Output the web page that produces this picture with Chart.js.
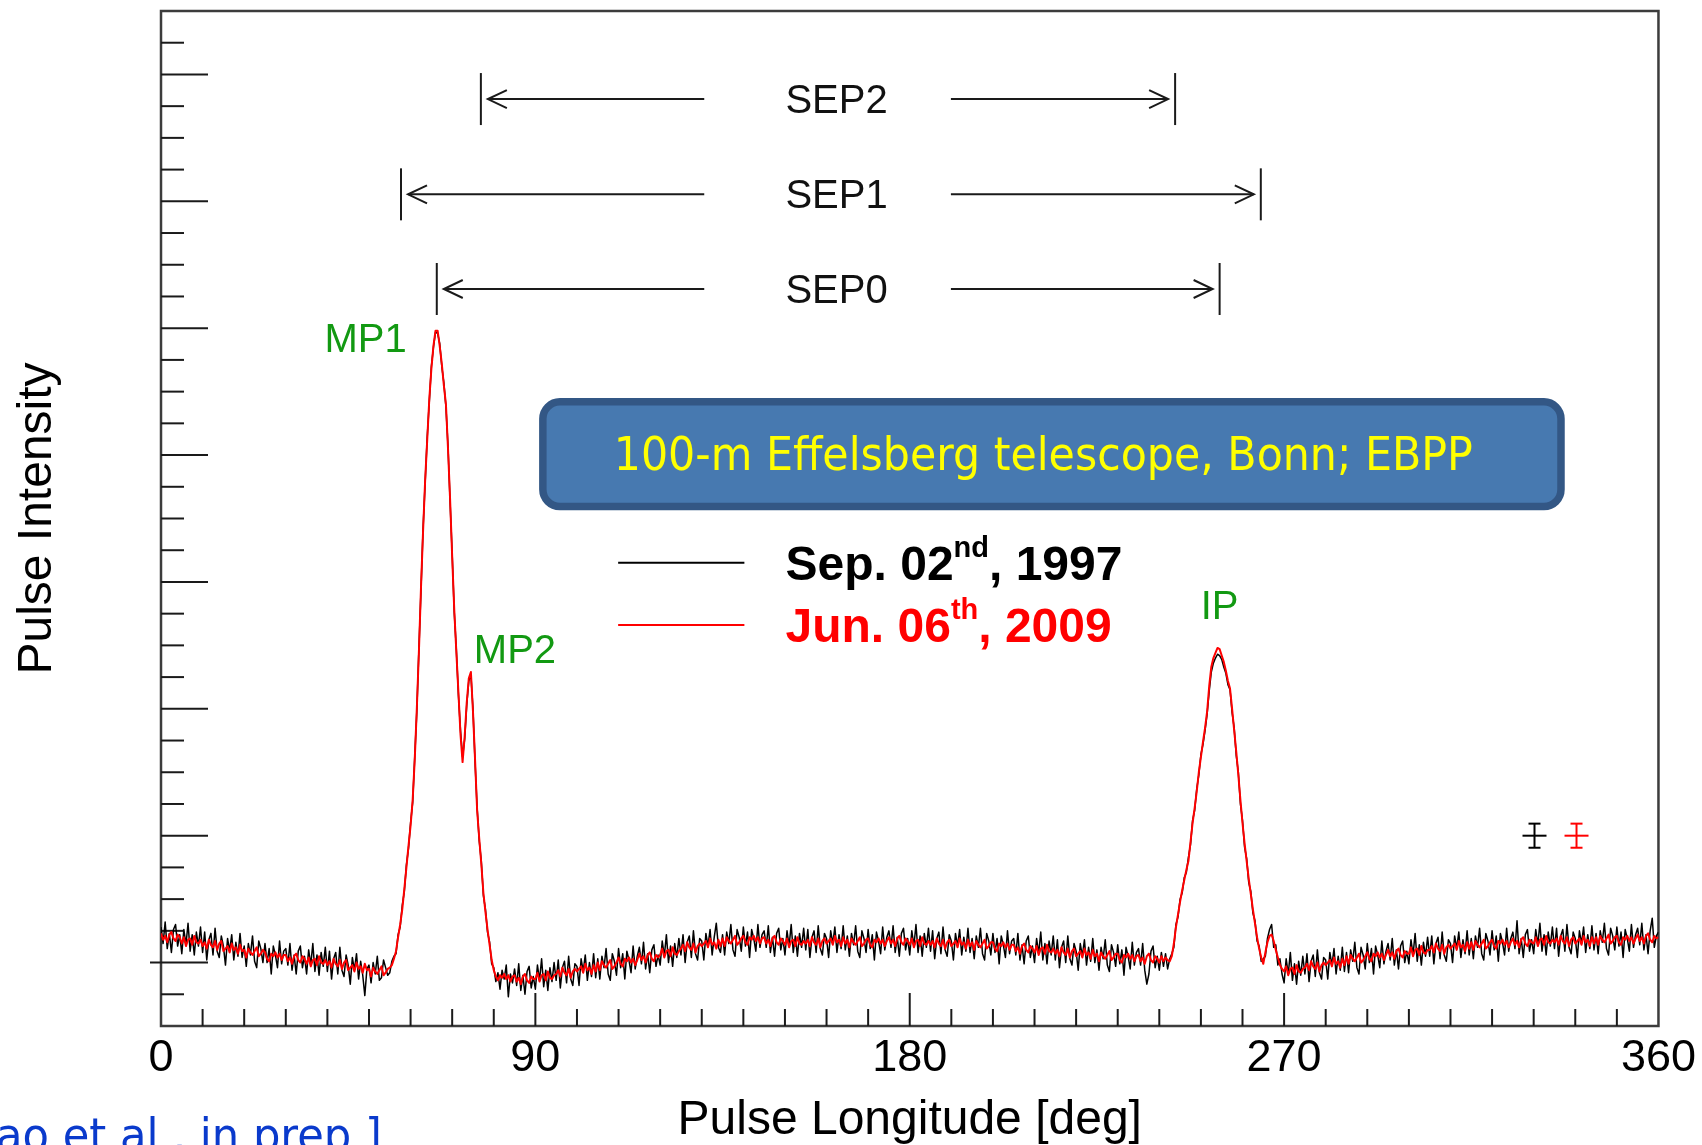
<!DOCTYPE html>
<html>
<head>
<meta charset="utf-8">
<title>Pulse profiles - Effelsberg</title>
<script src="https://cdn.jsdelivr.net/npm/chart.js@4.4.1/dist/chart.umd.min.js"></script>
<style>
  html, body { margin: 0; padding: 0; background: #fff; }
  canvas { display: block; }
</style>
</head>
<body>
<canvas id="profil" width="1702" height="1145"></canvas>
<script>
// profils lus sur la figure, pas de 0.5 deg (0 -> 360)
const pulseRed2009 = [
  0.23, 0.18, 0.21, 0.16, 0.22, 0.24, 0.19, 0.17, 0.22, 0.20, 0.15, 0.20, 0.13, 0.18, 0.19, 0.14, 0.21, 0.16, 0.15, 0.18,
  0.13, 0.16, 0.11, 0.18, 0.14, 0.12, 0.17, 0.10, 0.15, 0.17, 0.09, 0.11, 0.13, 0.08, 0.15, 0.10, 0.12, 0.07, 0.14, 0.09,
  0.10, 0.04, 0.11, 0.08, 0.06, 0.09, 0.12, 0.05, 0.07, 0.10, 0.08, 0.03, 0.01, 0.07, 0.05, 0.08, 0.04, 0.07, 0.02, 0.06,
  0.06, 0.01, 0.04, -0.01, 0.05, 0.07, 0.02, 0.00, 0.05, 0.03, -0.01, 0.04, -0.03, 0.02, 0.03, -0.02, 0.05, 0.00, -0.01, 0.02,
  -0.02, 0.01, -0.04, 0.03, -0.01, -0.03, 0.02, -0.05, 0.00, 0.02, -0.06, -0.04, -0.02, -0.07, 0.00, -0.05, -0.03, -0.08, -0.01, -0.06,
  -0.05, -0.11, -0.04, -0.07, -0.09, -0.06, -0.03, -0.10, -0.08, -0.05, -0.04, -0.02, 0.03, 0.09, 0.20, 0.30, 0.42, 0.58, 0.75, 0.92,
  1.08, 1.28, 1.60, 2.00, 2.45, 2.95, 3.40, 3.80, 4.12, 4.44, 4.68, 4.86, 4.98, 4.98, 4.86, 4.72, 4.55, 4.40, 4.05, 3.65,
  3.20, 2.78, 2.45, 2.13, 1.80, 1.58, 1.78, 2.05, 2.24, 2.29, 1.98, 1.60, 1.20, 0.98, 0.78, 0.55, 0.40, 0.26, 0.14, 0.02,
  -0.06, -0.11, -0.14, -0.10, -0.12, -0.09, -0.13, -0.10, -0.15, -0.11, -0.10, -0.15, -0.12, -0.17, -0.11, -0.09, -0.14, -0.16, -0.11, -0.13,
  -0.13, -0.08, -0.15, -0.10, -0.09, -0.14, -0.07, -0.12, -0.13, -0.10, -0.09, -0.06, -0.11, -0.04, -0.08, -0.10, -0.05, -0.12, -0.07, -0.05,
  -0.07, -0.05, -0.03, -0.08, -0.01, -0.06, -0.04, -0.09, -0.02, -0.07, 0.00, -0.06, 0.01, -0.02, -0.04, -0.01, 0.02, -0.05, -0.03, 0.00,
  0.04, -0.01, -0.03, 0.03, 0.01, 0.04, 0.00, 0.03, -0.02, 0.02, 0.07, 0.02, 0.05, 0.00, 0.06, 0.08, 0.03, 0.01, 0.06, 0.04,
  0.06, 0.11, 0.04, 0.09, 0.10, 0.05, 0.12, 0.07, 0.06, 0.09, 0.11, 0.14, 0.09, 0.16, 0.12, 0.10, 0.15, 0.08, 0.13, 0.15,
  0.13, 0.15, 0.17, 0.12, 0.19, 0.14, 0.16, 0.11, 0.18, 0.13, 0.19, 0.13, 0.20, 0.17, 0.15, 0.18, 0.21, 0.14, 0.16, 0.19,
  0.21, 0.16, 0.14, 0.20, 0.18, 0.21, 0.17, 0.20, 0.15, 0.19, 0.20, 0.15, 0.18, 0.13, 0.19, 0.21, 0.16, 0.14, 0.19, 0.17,
  0.14, 0.19, 0.12, 0.17, 0.18, 0.13, 0.20, 0.15, 0.14, 0.17, 0.15, 0.18, 0.13, 0.20, 0.16, 0.14, 0.19, 0.12, 0.17, 0.19,
  0.15, 0.17, 0.19, 0.14, 0.21, 0.16, 0.18, 0.13, 0.20, 0.15, 0.18, 0.12, 0.19, 0.16, 0.14, 0.17, 0.20, 0.13, 0.15, 0.18,
  0.19, 0.14, 0.12, 0.18, 0.16, 0.19, 0.15, 0.18, 0.13, 0.17, 0.20, 0.15, 0.18, 0.13, 0.19, 0.21, 0.16, 0.14, 0.19, 0.17,
  0.14, 0.19, 0.12, 0.17, 0.18, 0.13, 0.20, 0.15, 0.14, 0.17, 0.14, 0.17, 0.12, 0.19, 0.15, 0.13, 0.18, 0.11, 0.16, 0.18,
  0.13, 0.15, 0.17, 0.12, 0.19, 0.14, 0.16, 0.11, 0.18, 0.13, 0.16, 0.10, 0.17, 0.14, 0.12, 0.15, 0.18, 0.11, 0.13, 0.16,
  0.16, 0.11, 0.09, 0.15, 0.13, 0.16, 0.12, 0.15, 0.10, 0.14, 0.14, 0.09, 0.12, 0.07, 0.13, 0.15, 0.10, 0.08, 0.13, 0.11,
  0.08, 0.13, 0.06, 0.11, 0.12, 0.07, 0.14, 0.09, 0.08, 0.11, 0.07, 0.10, 0.05, 0.12, 0.08, 0.06, 0.11, 0.04, 0.09, 0.11,
  0.05, 0.07, 0.09, 0.04, 0.11, 0.06, 0.08, 0.03, 0.10, 0.05, 0.07, 0.01, 0.08, 0.05, 0.03, 0.06, 0.09, 0.02, 0.04, 0.07,
  0.07, 0.02, 0.00, 0.06, 0.04, 0.07, 0.03, 0.06, 0.01, 0.05, 0.06, 0.01, 0.04, -0.01, 0.05, 0.07, 0.02, 0.00, 0.05, 0.03,
  0.00, 0.05, 0.01, 0.04, 0.02, 0.01, 0.05, 0.15, 0.28, 0.38, 0.48, 0.57, 0.65, 0.73, 0.80, 0.95, 1.10, 1.22, 1.35, 1.50,
  1.62, 1.74, 1.85, 1.98, 2.18, 2.33, 2.40, 2.44, 2.48, 2.47, 2.42, 2.37, 2.30, 2.22, 2.16, 2.00, 1.83, 1.66, 1.48, 1.28,
  1.10, 0.94, 0.80, 0.66, 0.54, 0.42, 0.31, 0.20, 0.11, 0.04, -0.01, 0.08, 0.16, 0.21, 0.22, 0.17, 0.10, 0.04, -0.02, -0.05,
  -0.07, -0.03, -0.10, -0.05, -0.04, -0.09, -0.02, -0.07, -0.08, -0.05, -0.04, -0.01, -0.06, 0.01, -0.03, -0.05, 0.00, -0.07, -0.02, 0.00,
  -0.02, 0.00, 0.02, -0.03, 0.04, -0.01, 0.01, -0.04, 0.03, -0.02, 0.05, -0.01, 0.06, 0.03, 0.01, 0.04, 0.07, 0.00, 0.02, 0.05,
  0.08, 0.03, 0.01, 0.07, 0.05, 0.08, 0.04, 0.07, 0.02, 0.06, 0.10, 0.05, 0.08, 0.03, 0.09, 0.11, 0.06, 0.04, 0.09, 0.07,
  0.07, 0.12, 0.05, 0.10, 0.11, 0.06, 0.13, 0.08, 0.07, 0.10, 0.10, 0.13, 0.08, 0.15, 0.11, 0.09, 0.14, 0.07, 0.12, 0.14,
  0.11, 0.13, 0.15, 0.10, 0.17, 0.12, 0.14, 0.09, 0.16, 0.11, 0.16, 0.10, 0.17, 0.14, 0.12, 0.15, 0.18, 0.11, 0.13, 0.16,
  0.18, 0.13, 0.11, 0.17, 0.15, 0.18, 0.14, 0.17, 0.12, 0.16, 0.19, 0.14, 0.17, 0.12, 0.18, 0.20, 0.15, 0.13, 0.18, 0.16,
  0.15, 0.20, 0.13, 0.18, 0.19, 0.14, 0.21, 0.16, 0.15, 0.18, 0.16, 0.19, 0.14, 0.21, 0.17, 0.15, 0.20, 0.13, 0.18, 0.20,
  0.15, 0.17, 0.19, 0.14, 0.21, 0.16, 0.18, 0.13, 0.20, 0.15, 0.20, 0.14, 0.21, 0.18, 0.16, 0.19, 0.22, 0.15, 0.17, 0.20,
  0.21, 0.16, 0.14, 0.20, 0.18, 0.21, 0.17, 0.20, 0.15, 0.19, 0.22, 0.17, 0.20, 0.15, 0.21, 0.23, 0.18, 0.16, 0.21, 0.19,
  0.20
];

const pulseBlack1997 = [
  0.28, 0.15, 0.32, 0.11, 0.23, 0.08, 0.26, 0.30, 0.13, 0.22, 0.07, 0.26, 0.14, 0.31, 0.09, 0.22, 0.06, 0.24, 0.13, 0.28,
  0.08, 0.24, 0.02, 0.18, 0.23, 0.06, 0.27, 0.09, 0.04, 0.21, 0.13, -0.02, 0.19, 0.09, 0.22, 0.02, 0.16, 0.05, 0.23, 0.04,
  0.13, -0.03, 0.15, 0.06, 0.21, 0.01, -0.04, 0.17, 0.11, 0.00, 0.15, 0.00, 0.11, -0.09, 0.13, 0.06, -0.04, 0.17, -0.01, 0.09,
  0.11, -0.02, 0.15, -0.06, 0.06, -0.09, 0.09, 0.13, -0.04, 0.05, -0.09, 0.10, -0.02, 0.15, -0.07, 0.06, -0.10, 0.08, -0.03, 0.12,
  -0.07, 0.09, -0.13, 0.03, 0.08, -0.09, 0.12, -0.06, -0.11, 0.06, -0.02, -0.17, 0.04, -0.06, 0.07, -0.13, 0.01, -0.10, -0.26, -0.05,
  -0.02, -0.16, 0.00, -0.09, 0.05, -0.14, -0.12, 0.02, -0.04, -0.10, -0.08, 0.01, 0.05, 0.07, 0.22, 0.28, 0.45, 0.56, 0.77, 0.90,
  1.10, 1.26, 1.62, 1.98, 2.47, 2.93, 3.42, 3.78, 4.14, 4.42, 4.70, 4.85, 4.97, 4.96, 4.88, 4.70, 4.57, 4.38, 4.07, 3.63,
  3.22, 2.76, 2.47, 2.11, 1.83, 1.62, 1.76, 2.03, 2.22, 2.27, 2.00, 1.58, 1.22, 0.96, 0.80, 0.53, 0.42, 0.24, 0.16, -0.01,
  -0.04, -0.15, -0.08, -0.21, -0.06, -0.13, -0.02, -0.27, -0.09, -0.16, -0.05, -0.18, -0.01, -0.22, -0.10, -0.25, -0.07, -0.03, -0.20, -0.11,
  -0.21, -0.02, -0.14, 0.03, -0.19, -0.06, -0.22, -0.04, -0.15, 0.00, -0.14, 0.02, -0.20, -0.04, 0.01, -0.16, 0.05, -0.13, -0.18, -0.01,
  -0.03, -0.18, 0.03, -0.07, 0.06, -0.14, 0.00, -0.11, 0.07, -0.12, 0.03, -0.13, 0.05, -0.04, 0.11, -0.09, -0.14, 0.07, 0.01, -0.10,
  0.11, -0.04, 0.07, -0.13, 0.09, 0.02, -0.08, 0.13, -0.05, 0.05, 0.12, -0.01, 0.16, -0.05, 0.07, -0.08, 0.10, 0.14, -0.03, 0.06,
  -0.02, 0.17, 0.05, 0.22, 0.00, 0.13, -0.03, 0.15, 0.04, 0.19, 0.06, 0.22, 0.00, 0.16, 0.21, 0.04, 0.25, 0.07, 0.02, 0.19,
  0.17, 0.02, 0.23, 0.13, 0.26, 0.06, 0.20, 0.31, 0.12, 0.08, 0.22, 0.06, 0.24, 0.15, 0.30, 0.10, 0.05, 0.26, 0.20, 0.09,
  0.28, 0.13, 0.24, 0.04, 0.26, 0.19, 0.09, 0.30, 0.12, 0.22, 0.25, 0.12, 0.29, 0.08, 0.20, 0.05, 0.23, 0.27, 0.10, 0.19,
  0.06, 0.25, 0.13, 0.30, 0.08, 0.21, 0.05, 0.23, 0.12, 0.27, 0.10, 0.26, 0.04, 0.20, 0.25, 0.08, 0.29, 0.11, 0.06, 0.23,
  0.19, 0.04, 0.25, 0.15, 0.28, 0.08, 0.22, 0.11, 0.29, 0.10, 0.21, 0.05, 0.23, 0.14, 0.29, 0.09, 0.04, 0.25, 0.19, 0.08,
  0.26, 0.11, 0.22, 0.02, 0.24, 0.17, 0.07, 0.28, 0.10, 0.20, 0.25, 0.12, 0.29, 0.08, 0.20, 0.05, 0.23, 0.27, 0.10, 0.19,
  0.06, 0.25, 0.13, 0.30, 0.08, 0.21, 0.05, 0.23, 0.12, 0.27, 0.09, 0.25, 0.03, 0.19, 0.24, 0.07, 0.28, 0.10, 0.05, 0.22,
  0.17, 0.02, 0.23, 0.13, 0.26, 0.06, 0.20, 0.09, 0.27, 0.08, 0.19, 0.03, 0.21, 0.12, 0.27, 0.07, 0.02, 0.23, 0.17, 0.06,
  0.23, 0.08, 0.19, -0.01, 0.21, 0.14, 0.04, 0.25, 0.07, 0.17, 0.19, 0.06, 0.23, 0.02, 0.14, -0.01, 0.17, 0.21, 0.04, 0.13,
  0.00, 0.19, 0.07, 0.24, 0.02, 0.15, -0.01, 0.17, 0.06, 0.21, 0.02, 0.18, -0.04, 0.12, 0.17, 0.00, 0.21, 0.03, -0.02, 0.15,
  0.09, -0.06, 0.15, 0.05, 0.18, -0.02, 0.12, 0.01, 0.19, 0.00, 0.10, -0.06, 0.12, 0.03, 0.18, -0.02, -0.07, 0.14, 0.08, -0.03,
  0.14, -0.01, 0.10, -0.10, 0.12, 0.05, -0.05, 0.16, -0.02, 0.08, 0.11, -0.02, 0.15, -0.06, -0.17, -0.09, 0.09, 0.13, -0.04, 0.05,
  -0.06, 0.08, -0.03, 0.07, -0.05, 0.03, 0.07, 0.12, 0.30, 0.36, 0.50, 0.55, 0.67, 0.71, 0.83, 0.93, 1.12, 1.20, 1.37, 1.48,
  1.64, 1.72, 1.83, 1.96, 2.14, 2.29, 2.36, 2.40, 2.43, 2.42, 2.39, 2.33, 2.28, 2.19, 2.15, 1.97, 1.85, 1.63, 1.50, 1.25,
  1.12, 0.91, 0.82, 0.63, 0.56, 0.39, 0.33, 0.17, 0.13, 0.01, 0.03, 0.05, 0.19, 0.26, 0.30, 0.12, 0.14, -0.02, 0.03, -0.09,
  -0.16, 0.03, -0.09, 0.08, -0.14, -0.01, -0.17, 0.01, -0.10, 0.05, -0.09, 0.07, -0.15, 0.01, 0.06, -0.11, 0.10, -0.08, -0.13, 0.04,
  0.02, -0.13, 0.08, -0.02, 0.11, -0.09, 0.05, -0.06, 0.12, -0.07, 0.08, -0.08, 0.10, 0.01, 0.16, -0.04, -0.09, 0.12, 0.06, -0.05,
  0.15, 0.00, 0.11, -0.09, 0.13, 0.06, -0.04, 0.17, -0.01, 0.09, 0.15, 0.02, 0.19, -0.02, 0.10, -0.05, 0.13, 0.17, 0.00, 0.09,
  -0.01, 0.18, 0.06, 0.23, 0.01, 0.14, -0.02, 0.16, 0.05, 0.20, 0.05, 0.21, -0.01, 0.15, 0.20, 0.03, 0.24, 0.06, 0.01, 0.18,
  0.15, 0.00, 0.21, 0.11, 0.24, 0.04, 0.18, 0.07, 0.25, 0.06, 0.19, 0.03, 0.21, 0.12, 0.27, 0.07, 0.02, 0.23, 0.17, 0.06,
  0.25, 0.10, 0.21, 0.01, 0.23, 0.16, 0.06, 0.27, 0.09, 0.19, 0.24, 0.11, 0.33, 0.07, 0.19, 0.04, 0.22, 0.26, 0.09, 0.18,
  0.07, 0.26, 0.14, 0.31, 0.09, 0.22, 0.06, 0.24, 0.13, 0.28, 0.11, 0.27, 0.05, 0.21, 0.26, 0.09, 0.30, 0.12, 0.07, 0.24,
  0.19, 0.04, 0.25, 0.15, 0.28, 0.08, 0.22, 0.11, 0.29, 0.10, 0.23, 0.07, 0.25, 0.16, 0.31, 0.11, 0.06, 0.27, 0.21, 0.10,
  0.28, 0.13, 0.24, 0.04, 0.26, 0.19, 0.09, 0.30, 0.12, 0.22, 0.27, 0.14, 0.31, 0.10, 0.22, 0.07, 0.25, 0.35, 0.12, 0.21,
  0.24
];

const xLabels = [0, 90, 180, 270, 360];

// fleches SEP (longitudes en deg, niveau en unites d'intensite)
const sepNames = ['SEP2', 'SEP1', 'SEP0'];
const sepStart = [76.9, 57.7, 66.3];
const sepEnd = [243.8, 264.4, 254.5];
const sepLevel = [6.806, 6.055, 5.309];

// composantes
const compNames = ['MP1', 'MP2', 'IP'];
const compLon = [49.2, 85.1, 254.5];
const compLevel = [4.93, 2.48, 2.83];

// barres d'erreur (bruit)
const errLon = [330.2, 340.3];
const errLevel = [1.0, 1.0];
const errSigma = [0.095, 0.095];

// legende
const legendMain = ['Sep. 02', 'Jun. 06'];
const legendSup = ['nd', 'th'];
const legendYear = [', 1997', ', 2009'];

const longitude = pulseRed2009.map((_, i) => i * 0.5);

const FONT = '"Liberation Sans", Arial, sans-serif';
const FONT_BOX = '"DejaVu Sans", Verdana, sans-serif';
const COL_BLACK = '#000000';
const COL_RED = '#ff0000';
const COL_GREEN = '#129912';

function ligne(ctx, x1, y1, x2, y2) {
  ctx.beginPath();
  ctx.moveTo(x1, y1);
  ctx.lineTo(x2, y2);
  ctx.stroke();
}

// texte centre ; 'middle' sort un peu haut, on recale de 4 px
function texte(ctx, txt, x, y, font, color, largeur) {
  ctx.save();
  ctx.font = font;
  ctx.fillStyle = color;
  ctx.textAlign = 'center';
  ctx.textBaseline = 'middle';
  const w = ctx.measureText(txt).width;
  const k = largeur ? largeur / w : 1;
  ctx.translate(x, y + 4);
  ctx.scale(k, 1);
  ctx.fillText(txt, 0, 0);
  ctx.restore();
}

function cadreArrondi(ctx, x0, y0, x1, y1, r) {
  ctx.beginPath();
  ctx.moveTo(x0 + r, y0);
  ctx.lineTo(x1 - r, y0);
  ctx.arcTo(x1, y0, x1, y0 + r, r);
  ctx.lineTo(x1, y1 - r);
  ctx.arcTo(x1, y1, x1 - r, y1, r);
  ctx.lineTo(x0 + r, y1);
  ctx.arcTo(x0, y1, x0, y1 - r, r);
  ctx.lineTo(x0, y0 + r);
  ctx.arcTo(x0, y0, x0 + r, y0, r);
  ctx.closePath();
}

const rootStyle = {
  id: 'rootStyle',
  beforeDatasetsDraw(chart) {
    const { ctx, chartArea: a, scales: { x, y } } = chart;
    ctx.save();
    // cadre
    ctx.strokeStyle = '#3c3c3c';
    ctx.lineWidth = 2.5;
    ctx.strokeRect(a.left, a.top, a.right - a.left, a.bottom - a.top);
    // graduations vers l'interieur
    ctx.strokeStyle = '#1a1a1a';
    ctx.lineWidth = 2;
    x.ticks.forEach(t => {
      if (t.value <= x.min || t.value >= x.max) return;
      const px = x.getPixelForValue(t.value);
      const len = xLabels.includes(t.value) ? 33 : 17;
      ligne(ctx, px, a.bottom, px, a.bottom - len);
    });
    y.ticks.forEach(t => {
      if (t.value <= y.min || t.value >= y.max) return;
      const py = y.getPixelForValue(t.value);
      const len = Number.isInteger(t.value) ? 47 : 23;
      const x0 = t.value === 0 ? a.left - 11 : a.left;
      ligne(ctx, x0, py, a.left + len, py);
    });
    ctx.restore();
  },
  afterDatasetsDraw(chart) {
    const { ctx, scales: { x, y } } = chart;
    const X = v => x.getPixelForValue(v);
    const Y = v => y.getPixelForValue(v);
    ctx.save();

    // fleches SEP
    ctx.strokeStyle = '#1a1a1a';
    ctx.lineWidth = 2;
    const gapL = X(130.6), gapR = X(189.9), labelX = X(162.4);
    sepNames.forEach((name, i) => {
      const py = Y(sepLevel[i]);
      const xl = X(sepStart[i]), xr = X(sepEnd[i]);
      ligne(ctx, xl, py - 26, xl, py + 26);
      ligne(ctx, xr, py - 26, xr, py + 26);
      ligne(ctx, xl + 7, py, gapL, py);
      ligne(ctx, gapR, py, xr - 7, py);
      ctx.beginPath();
      ctx.moveTo(xl + 26, py - 9); ctx.lineTo(xl + 7, py); ctx.lineTo(xl + 26, py + 9);
      ctx.moveTo(xr - 26, py - 9); ctx.lineTo(xr - 7, py); ctx.lineTo(xr - 26, py + 9);
      ctx.stroke();
      texte(ctx, name, labelX, py - 1, '40px ' + FONT, '#111');
    });

    // noms des composantes
    compNames.forEach((name, i) => {
      texte(ctx, name, X(compLon[i]), Y(compLevel[i]), '40px ' + FONT, COL_GREEN);
    });

    // encadre bleu
    const bx0 = X(90.96) + 3.5, bx1 = X(337.41) - 3.5;
    const by0 = Y(4.447) + 3.5, by1 = Y(3.567) - 3.5;
    cadreArrondi(ctx, bx0, by0, bx1, by1, 17);
    ctx.fillStyle = '#4779b0';
    ctx.fill();
    ctx.strokeStyle = '#335785';
    ctx.lineWidth = 7.5;
    ctx.stroke();
    texte(ctx, '100-m Effelsberg telescope, Bonn; EBPP', X(212.1), Y(4.011), '46px ' + FONT_BOX, '#ffff00', 859);

    // legende
    const legCol = [COL_BLACK, COL_RED];
    const legLine = [3.152, 2.660];
    const legBase = [3.015, 2.529];
    legendMain.forEach((m, i) => {
      ctx.strokeStyle = legCol[i];
      ctx.lineWidth = 2;
      ligne(ctx, X(109.9), Y(legLine[i]), X(140.25), Y(legLine[i]));
      ctx.fillStyle = legCol[i];
      ctx.textAlign = 'left';
      ctx.textBaseline = 'alphabetic';
      let px = X(150.13);
      const base = Y(legBase[i]);
      ctx.font = 'bold 48px ' + FONT;
      ctx.fillText(m, px, base);
      px += ctx.measureText(m).width;
      ctx.font = 'bold 29px ' + FONT;
      ctx.fillText(legendSup[i], px, base - 23);
      px += ctx.measureText(legendSup[i]).width;
      ctx.font = 'bold 48px ' + FONT;
      ctx.fillText(legendYear[i], px, base);
    });

    // barres d'erreur
    const errCol = [COL_BLACK, COL_RED];
    errLon.forEach((lon, i) => {
      const px = X(lon), py = Y(errLevel[i]);
      const t = Y(errLevel[i] + errSigma[i]), b = Y(errLevel[i] - errSigma[i]);
      ctx.strokeStyle = errCol[i];
      ctx.lineWidth = 2;
      ligne(ctx, px, t, px, b);
      ligne(ctx, px - 6, t, px + 6, t);
      ligne(ctx, px - 6, b, px + 6, b);
      ligne(ctx, px - 12, py, px + 12, py);
    });

    // reference (coupee en bas de la diapositive)
    ctx.font = '46px ' + FONT_BOX;
    ctx.fillStyle = '#0a3acc';
    ctx.textAlign = 'left';
    ctx.textBaseline = 'alphabetic';
    ctx.save();
    ctx.translate(-4, 1151);
    ctx.scale(0.94, 1);
    ctx.fillText('ao et al., in prep.]', 0, 0);
    ctx.restore();

    ctx.restore();
  }
};

new Chart(document.getElementById('profil'), {
  type: 'line',
  data: {
    datasets: [
      {
        label: 'Jun. 06th, 2009',
        data: longitude.map((lon, i) => ({ x: lon, y: pulseRed2009[i] })),
        borderColor: COL_RED,
        borderWidth: 2,
        order: 0
      },
      {
        label: 'Sep. 02nd, 1997',
        data: longitude.map((lon, i) => ({ x: lon, y: pulseBlack1997[i] })),
        borderColor: COL_BLACK,
        borderWidth: 1.5,
        order: 1
      }
    ]
  },
  options: {
    responsive: false,
    animation: false,
    devicePixelRatio: 1,
    events: [],
    layout: { padding: { top: 11, right: 43, bottom: 0, left: 0 } },
    elements: {
      point: { radius: 0 },
      line: { tension: 0, fill: false, borderJoinStyle: 'round' }
    },
    plugins: {
      legend: { display: false },
      tooltip: { enabled: false }
    },
    scales: {
      x: {
        type: 'linear',
        min: 0,
        max: 360,
        grid: { display: false, drawTicks: false },
        border: { display: false },
        ticks: {
          stepSize: 10,
          autoSkip: false,
          maxRotation: 0,
          padding: 6,
          color: '#000',
          font: { family: FONT, size: 45 },
          callback: v => (xLabels.includes(v) ? String(v) : '')
        },
        title: {
          display: true,
          text: 'Pulse Longitude [deg]',
          color: '#000',
          font: { family: FONT, size: 48 },
          padding: { top: 0, bottom: -5 }
        },
        afterFit: s => { s.height = 119; }
      },
      y: {
        type: 'linear',
        min: -0.5,
        max: 7.5,
        grid: { display: false, drawTicks: false },
        border: { display: false },
        ticks: { stepSize: 0.25, display: false },
        title: {
          display: true,
          text: 'Pulse Intensity',
          color: '#000',
          font: { family: FONT, size: 48 },
          padding: { top: 9, bottom: 0 }
        },
        afterFit: s => { s.width = 161; }
      }
    }
  },
  plugins: [rootStyle]
});
</script>
</body>
</html>
